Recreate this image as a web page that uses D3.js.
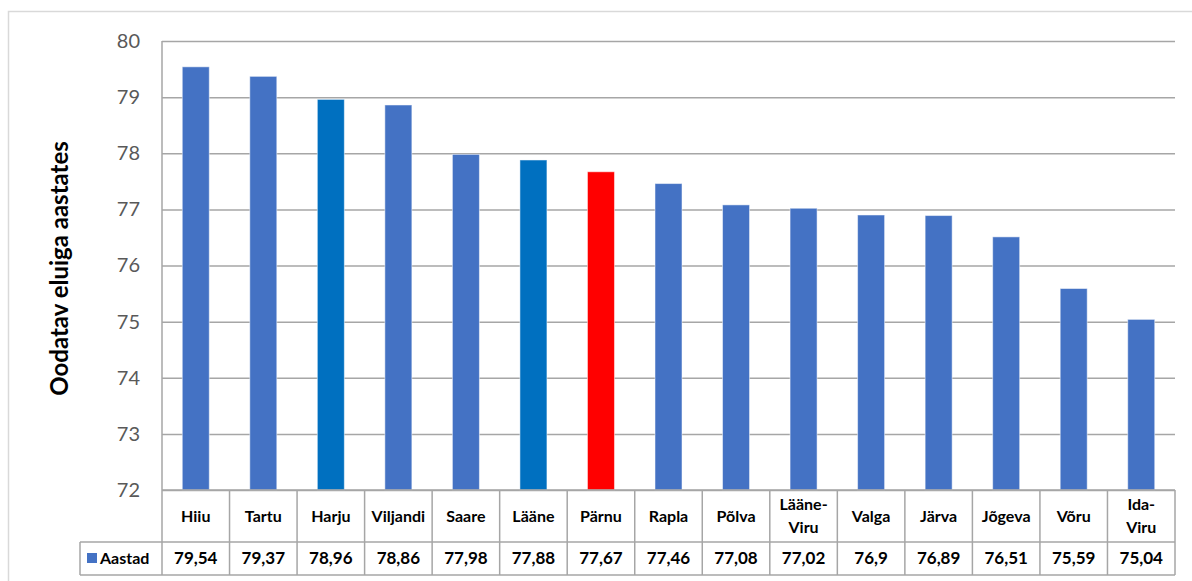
<!DOCTYPE html>
<html><head><meta charset="utf-8">
<script src="https://cdn.jsdelivr.net/npm/d3@7"></script>
<style>body{margin:0;background:#fff}svg{display:block}text{font-family:Lato,"Open Sans",sans-serif}</style>
</head><body><svg id="c" width="1192" height="581"></svg>
<script>
const categories = ["Hiiu","Tartu","Harju","Viljandi","Saare","Lääne","Pärnu","Rapla","Põlva","Lääne-\nViru","Valga","Järva","Jõgeva","Võru","Ida-\nViru"];
const values = [79.54,79.37,78.96,78.86,77.98,77.88,77.67,77.46,77.08,77.02,76.9,76.89,76.51,75.59,75.04];
const valueLabels = ["79,54","79,37","78,96","78,86","77,98","77,88","77,67","77,46","77,08","77,02","76,9","76,89","76,51","75,59","75,04"];
const barColors = ["#4472C4","#4472C4","#0070C0","#4472C4","#4472C4","#0070C0","#FF0000","#4472C4","#4472C4","#4472C4","#4472C4","#4472C4","#4472C4","#4472C4","#4472C4"];
const yTicks = [72,73,74,75,76,77,78,79,80];
const seriesName = "Aastad";
const yTitle = "Oodatav eluiga aastates";

const svg = d3.select("#c");
const L = 162, R = 1175, T = 41, B = 490;
const row1B = 542, row2B = 575, legendL = 80;

// outer border
svg.append("rect").attr("x",8.5).attr("y",11.5).attr("width",1200).attr("height",600)
  .attr("fill","none").attr("stroke","#d9d9d9").attr("stroke-width",1.5);

const x = d3.scaleBand().domain(d3.range(categories.length)).range([L,R]).paddingInner(0.6).paddingOuter(0.3);
const xc = d3.scaleBand().domain(d3.range(categories.length)).range([L,R]);
const y = d3.scaleLinear().domain([72,80]).range([B,T]);

// gridlines
const yAxis = d3.axisLeft(y).tickValues(yTicks).tickSize(-(R-L)).tickFormat(d3.format("d")).tickPadding(22);
const gy = svg.append("g").attr("transform",`translate(${L},0)`).call(yAxis);
gy.select(".domain").remove();
gy.selectAll(".tick line").attr("stroke","#a6a6a6").attr("stroke-width",1.5);
gy.selectAll(".tick text").attr("fill","#595959").attr("font-size",20).style("font-family","Lato,sans-serif");

// bars
svg.append("g").selectAll("rect").data(values).join("rect")
  .attr("x",(d,i)=>x(i)).attr("width",x.bandwidth())
  .attr("y",d=>y(d)).attr("height",d=>y(72)-y(d))
  .attr("fill",(d,i)=>barColors[i])
  .attr("stroke","#ffffff").attr("stroke-opacity",0.5).attr("stroke-width",1);

// value axis line (left)
svg.append("line").attr("x1",L).attr("x2",L).attr("y1",T).attr("y2",B).attr("stroke","#a6a6a6").attr("stroke-width",1.5);

// table
const tg = svg.append("g").attr("stroke","#a6a6a6").attr("stroke-width",1.5);
tg.append("line").attr("x1",L).attr("x2",R).attr("y1",B).attr("y2",B);
tg.append("line").attr("x1",legendL).attr("x2",R).attr("y1",row1B).attr("y2",row1B);
tg.append("line").attr("x1",legendL).attr("x2",R).attr("y1",row2B).attr("y2",row2B);
tg.append("line").attr("x1",legendL).attr("x2",legendL).attr("y1",row1B).attr("y2",row2B);
tg.selectAll(".v").data(d3.range(categories.length+1)).join("line")
  .attr("x1",i=>i<categories.length? xc(i): R).attr("x2",i=>i<categories.length? xc(i): R)
  .attr("y1",B).attr("y2",row2B);

// category labels
const cl = svg.append("g").selectAll("text").data(categories).join("text")
  .attr("text-anchor","middle").attr("font-weight","bold").attr("font-size",16).attr("fill","#000");
cl.each(function(d,i){
  const lines = d.split("\n");
  const cx = xc(i)+xc.bandwidth()/2;
  const mid = (B+row1B)/2;
  const lh = 23;
  lines.forEach((ln,k)=>{
    d3.select(this).append("tspan").attr("x",cx)
      .attr("y",mid + (k-(lines.length-1)/2)*lh + 5.5).text(ln);
  });
});

// values
svg.append("g").selectAll("text").data(valueLabels).join("text")
  .attr("x",(d,i)=>xc(i)+xc.bandwidth()/2).attr("y",(row1B+row2B)/2+5)
  .attr("text-anchor","middle").attr("font-weight","bold").attr("font-size",17).attr("fill","#000")
  .text(d=>d);

// legend key
svg.append("rect").attr("x",87).attr("y",553).attr("width",10).attr("height",10).attr("fill","#4472C4");
svg.append("text").attr("x",100).attr("y",564).attr("font-weight","bold").attr("font-size",16).text(seriesName);

// y title
svg.append("text").attr("transform",`translate(68,${(T+B)/2+3}) rotate(-90)`)
  .attr("text-anchor","middle").attr("font-weight","bold").attr("font-size",24).text(yTitle);
</script></body></html>
